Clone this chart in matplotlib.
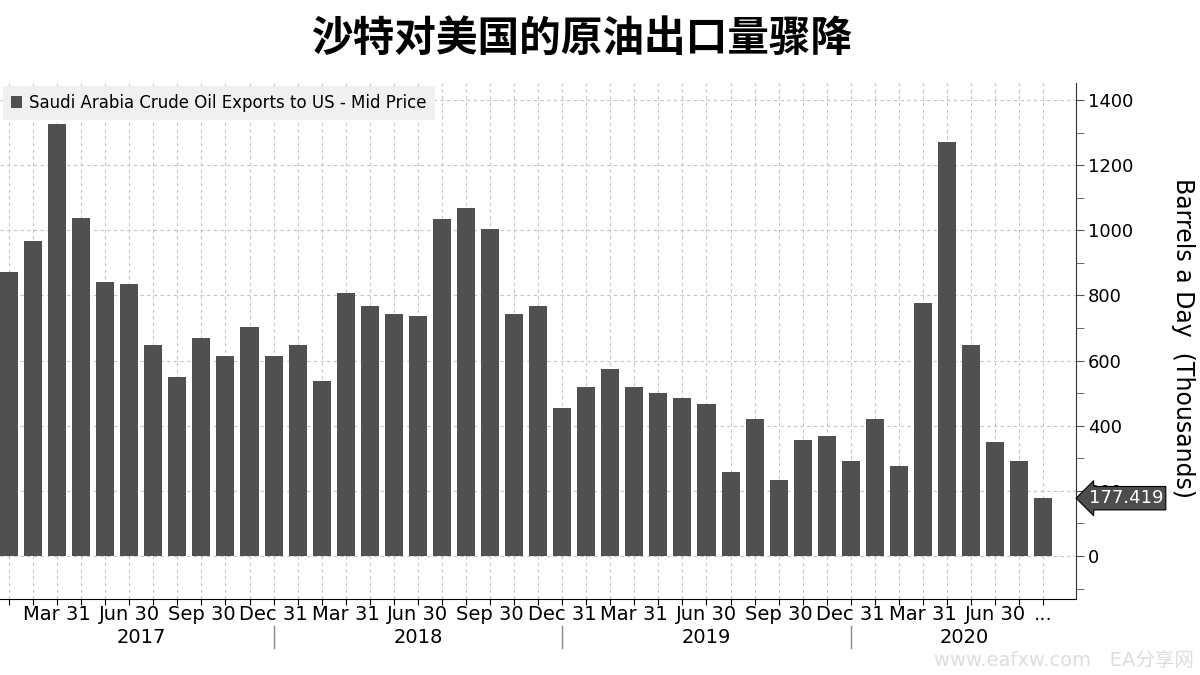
import matplotlib
matplotlib.use("Agg")
import matplotlib.pyplot as plt
from matplotlib.ticker import MultipleLocator, FixedLocator, NullFormatter
import matplotlib.transforms as mtransforms

plt.rcParams['font.family'] = ['DejaVu Sans', 'Noto Sans CJK SC']

# monthly exports, Jan 2017 .. Aug 2020 (thousand barrels a day)
values = [872, 967, 1326, 1038, 841, 835, 648, 550, 669, 614, 703, 614,
          648, 537, 807, 768, 743, 737, 1035, 1068, 1004, 743, 768, 454,
          519, 574, 519, 500, 485, 467, 258, 421, 233, 356, 368, 292,
          421, 276, 777, 1271, 648, 350, 292, 177.419]
last_label = "177.419"

tick_idx = [2, 5, 8, 11, 14, 17, 20, 23, 26, 29, 32, 35, 38, 41, 43]
tick_text = ["Mar 31", "Jun 30", "Sep 30", "Dec 31",
             "Mar 31", "Jun 30", "Sep 30", "Dec 31",
             "Mar 31", "Jun 30", "Sep 30", "Dec 31",
             "Mar 31", "Jun 30", "..."]
years = ["2017", "2018", "2019", "2020"]
year_pos = [5.5, 17, 29, 39.7]
year_sep = [11, 23, 35]

title = "沙特对美国的原油出口量骤降"
series_name = "Saudi Arabia Crude Oil Exports to US - Mid Price"
ylabel = "Barrels a Day  (Thousands)"

bar_color = "#505050"

fig = plt.figure(figsize=(12, 6.75), dpi=100)
ax = fig.add_axes([0.0, 0.1126, 0.8964, 0.7644])

x = list(range(len(values)))
ax.bar(x, values, width=0.75, color=bar_color, label=series_name, zorder=2)

ax.set_xlim(-0.374, 44.35)
ax.set_ylim(-132, 1452)

# grid
ax.set_axisbelow(True)
ax.xaxis.set_major_locator(FixedLocator(x))
ax.xaxis.set_major_formatter(NullFormatter())
ax.yaxis.set_major_locator(MultipleLocator(200))
ax.yaxis.set_minor_locator(MultipleLocator(100))
ax.grid(True, which='major', color='#c4c4c4', linestyle=(0, (3, 3)), linewidth=0.8)

# spines
ax.spines['top'].set_visible(False)
ax.spines['left'].set_visible(False)
ax.spines['right'].set_color('#333333')
ax.spines['bottom'].set_color('black')

ax.yaxis.tick_right()
ax.tick_params(axis='y', which='both', direction='out', colors='#555555',
               labelcolor='black', labelsize=13, pad=3)
ax.tick_params(axis='y', which='major', length=6)
ax.tick_params(axis='y', which='minor', length=6)
ax.tick_params(axis='x', which='major', direction='out', length=4, color='black')

ax.yaxis.set_label_position('right')
ax.set_ylabel(ylabel, rotation=270, fontsize=17, va='center')
ax.yaxis.set_label_coords(1.1, 0.505)

# quarter labels and years under the axis
xt = mtransforms.blended_transform_factory(ax.transData, ax.transAxes)
for i, t in zip(tick_idx, tick_text):
    ax.text(i, -0.012, t, transform=xt, ha='center', va='top', fontsize=14)
for p, y in zip(year_pos, years):
    ax.text(p, -0.074, y, transform=xt, ha='center', va='center', fontsize=14)
for s in year_sep:
    ax.plot([s, s], [-0.052, -0.095], transform=xt, color='#888888',
            linewidth=1, clip_on=False)

# last value tag
ax.text(1.012, values[-1], last_label, transform=mtransforms.blended_transform_factory(ax.transAxes, ax.transData),
        ha='left', va='center', fontsize=13, color='white', zorder=10, clip_on=False,
        bbox=dict(boxstyle='larrow,pad=0.15', fc='#4d4d4d', ec='black', lw=0.8))

leg = ax.legend(loc='upper left', bbox_to_anchor=(0.0, 1.0), fontsize=12,
                handlelength=0.7, handleheight=0.7, handletextpad=0.4,
                borderpad=0.5, borderaxespad=0.15, frameon=True, fancybox=False)
leg.get_frame().set_facecolor('#f0f0f0')
leg.get_frame().set_edgecolor('none')
leg.get_frame().set_alpha(1)

fig.text(0.485, 0.943, title, ha='center', va='center', fontsize=30,
         fontweight='bold', family=['Noto Sans CJK SC'])
fig.text(0.995, 0.022, "www.eafxw.com   EA分享网", ha='right', va='center',
         fontsize=14, color='#dddddd')

fig.savefig("out.png", dpi=100)
